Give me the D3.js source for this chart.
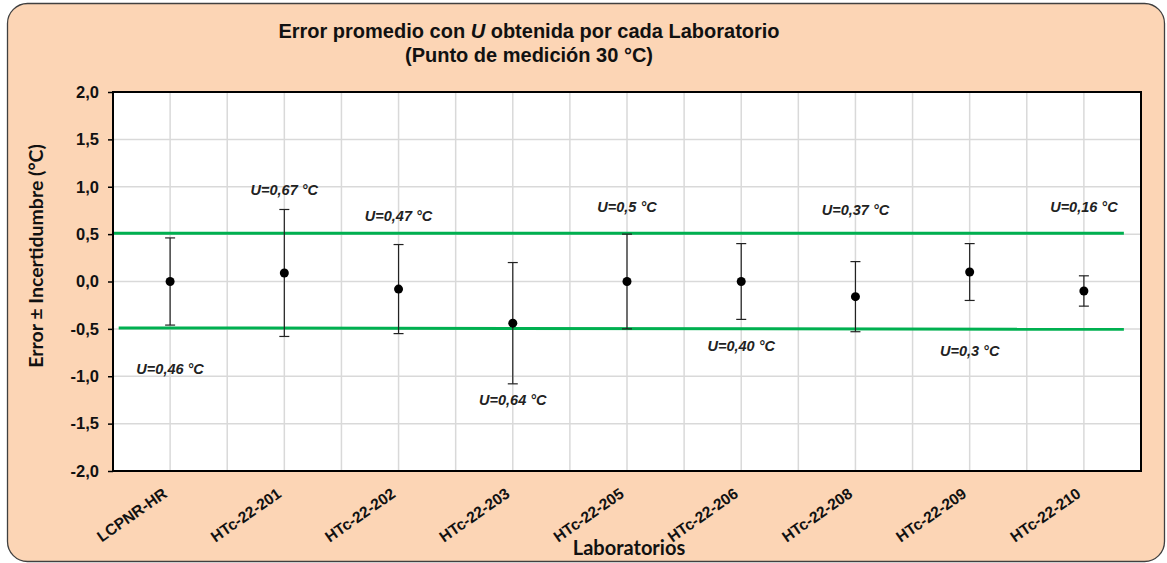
<!DOCTYPE html>
<html>
<head>
<meta charset="utf-8">
<script src="https://cdn.jsdelivr.net/npm/d3@7"></script>
<style>
  body { margin: 0; background: #fff; }
  svg { display: block; }
</style>
</head>
<body>
<svg id="viz"></svg>
<script>
var width = 1167;
var height = 563;

// data
var labs = ["LCPNR-HR", "HTc-22-201", "HTc-22-202", "HTc-22-203", "HTc-22-205",
            "HTc-22-206", "HTc-22-208", "HTc-22-209", "HTc-22-210"];
var errors = [0.00, 0.09, -0.08, -0.44, 0.00, 0.00, -0.16, 0.10, -0.10];
var uncert = [0.46, 0.67, 0.47, 0.64, 0.50, 0.40, 0.37, 0.30, 0.16];
var uText = ["0,46", "0,67", "0,47", "0,64", "0,5", "0,40", "0,37", "0,3", "0,16"];
// where the U labels sit (in °C)
var uLabelY = [-0.92, 0.97, 0.69, -1.25, 0.79, -0.68, 0.75, -0.73, 0.79];
var yTicks = [2.0, 1.5, 1.0, 0.5, 0.0, -0.5, -1.0, -1.5, -2.0];
// green limit lines, x in category index
var upperX = [-0.5, 8.35], upperY = [0.51, 0.51];
var lowerX = [-0.45, 8.35], lowerY = [-0.49, -0.505];

var margin = {top: 92, right: 26, bottom: 92, left: 113};
var plotW = width - margin.left - margin.right;
var plotH = height - margin.top - margin.bottom;
var arial = "Liberation Sans, Arial, sans-serif";

var svg = d3.select("#viz").attr("width", width).attr("height", height);

svg.append("rect")
    .attr("x", 7.5).attr("y", 3.5)
    .attr("width", 1157).attr("height", 558)
    .attr("rx", 20).attr("ry", 20)
    .style("fill", "#fcd5b5")
    .style("stroke", "#404040")
    .style("stroke-width", 1.3);

var g = svg.append("g")
    .attr("transform", "translate(" + margin.left + "," + margin.top + ")");

var x = d3.scaleBand().domain(labs).range([0, plotW]).paddingInner(0).paddingOuter(0);
var xi = d3.scaleLinear().domain([0, labs.length - 1])
    .range([x(labs[0]) + x.bandwidth() / 2, x(labs[labs.length - 1]) + x.bandwidth() / 2]);
var y = d3.scaleLinear().domain([-2, 2]).range([plotH, 0]);

g.append("rect")
    .attr("width", plotW).attr("height", plotH)
    .style("fill", "#fff");

// grid
var half = [];
for (var i = 0; i <= labs.length * 2; i++) half.push(i * x.bandwidth() / 2);
g.append("g").selectAll("line").data(half).enter().append("line")
    .attr("x1", function(d) { return d; }).attr("x2", function(d) { return d; })
    .attr("y1", 0).attr("y2", plotH)
    .style("stroke", "#d9d9d9").style("stroke-width", 1.5);
g.append("g").selectAll("line").data(yTicks).enter().append("line")
    .attr("x1", 0).attr("x2", plotW)
    .attr("y1", function(d) { return y(d); }).attr("y2", function(d) { return y(d); })
    .style("stroke", "#d9d9d9").style("stroke-width", 1.5);

// limit lines
var line = d3.line()
    .x(function(d) { return xi(d[0]); })
    .y(function(d) { return y(d[1]); });
[[upperX, upperY], [lowerX, lowerY]].forEach(function(l) {
    g.append("path")
        .attr("d", line(d3.zip(l[0], l[1])))
        .style("fill", "none")
        .style("stroke", "#00b050")
        .style("stroke-width", 3);
});

// error bars
var pts = labs.map(function(d, i) { return {lab: d, e: errors[i], u: uncert[i], t: uText[i], ly: uLabelY[i]}; });
var cx = function(d) { return x(d.lab) + x.bandwidth() / 2; };
var bars = g.append("g").selectAll("g").data(pts).enter().append("g");
bars.append("line")
    .attr("x1", cx).attr("x2", cx)
    .attr("y1", function(d) { return y(d.e + d.u); })
    .attr("y2", function(d) { return y(d.e - d.u); })
    .style("stroke", "#222").style("stroke-width", 1.2);
[1, -1].forEach(function(s) {
    bars.append("line")
        .attr("x1", function(d) { return cx(d) - 5; })
        .attr("x2", function(d) { return cx(d) + 5; })
        .attr("y1", function(d) { return y(d.e + s * d.u); })
        .attr("y2", function(d) { return y(d.e + s * d.u); })
        .style("stroke", "#222").style("stroke-width", 1.2);
});
bars.append("circle")
    .attr("cx", cx)
    .attr("cy", function(d) { return y(d.e); })
    .attr("r", 4.5)
    .style("fill", "#000");

// U labels
var ul = bars.append("text")
    .attr("x", cx)
    .attr("y", function(d) { return y(d.ly) + 5; })
    .attr("text-anchor", "middle")
    .style("font-family", arial)
    .style("font-size", "14.5px")
    .style("font-weight", "bold")
    .style("font-style", "italic")
    .style("fill", "#222");
ul.append("tspan").text("U");
ul.append("tspan").text(function(d) { return "=" + d.t + " °C"; });

// plot border
g.append("rect")
    .attr("width", plotW).attr("height", plotH)
    .style("fill", "none")
    .style("stroke", "#000")
    .style("stroke-width", 2);

// y axis
var yAxis = g.append("g")
    .call(d3.axisLeft(y).tickValues(yTicks).tickSize(5).tickPadding(9)
        .tickFormat(function(d) { return d3.format(".1f")(d).replace(".", ",").replace("−", "-"); }));
yAxis.select(".domain").remove();
yAxis.selectAll("line").style("stroke", "#000").style("stroke-width", 1.5);
yAxis.selectAll("text")
    .style("font-family", arial)
    .style("font-size", "16.5px")
    .style("font-weight", "bold")
    .style("fill", "#111");

// x axis labels
g.append("g").selectAll("text").data(labs).enter().append("text")
    .attr("transform", function(d) {
        return "translate(" + (x(d) + x.bandwidth() / 2 - 2) + "," + (plotH + 25) + ") rotate(-35)";
    })
    .attr("text-anchor", "end")
    .style("font-family", arial)
    .style("font-size", "15.5px")
    .style("font-weight", "bold")
    .style("fill", "#111")
    .text(function(d) { return d; });

// titles
var title = svg.append("text")
    .attr("x", 529).attr("y", 38)
    .attr("text-anchor", "middle")
    .style("font-family", arial)
    .style("font-size", "20px")
    .style("font-weight", "bold")
    .style("fill", "#111");
title.append("tspan").text("Error promedio con ");
title.append("tspan").style("font-style", "italic").text("U");
title.append("tspan").text(" obtenida por cada Laboratorio");
svg.append("text")
    .attr("x", 529).attr("y", 62)
    .attr("text-anchor", "middle")
    .style("font-family", arial)
    .style("font-size", "20px")
    .style("font-weight", "bold")
    .style("fill", "#111")
    .text("(Punto de medición 30 °C)");

svg.append("text")
    .attr("transform", "translate(43,256) rotate(-90)")
    .attr("text-anchor", "middle")
    .style("font-family", "Lato, sans-serif")
    .style("font-size", "19.5px")
    .style("font-weight", "bold")
    .style("fill", "#111")
    .text("Error ± Incertidumbre (°C)");

svg.append("text")
    .attr("x", 629).attr("y", 555)
    .attr("text-anchor", "middle")
    .style("font-family", "Lato, sans-serif")
    .style("font-size", "20px")
    .style("font-weight", "bold")
    .style("fill", "#111")
    .text("Laboratorios");
</script>
</body>
</html>
